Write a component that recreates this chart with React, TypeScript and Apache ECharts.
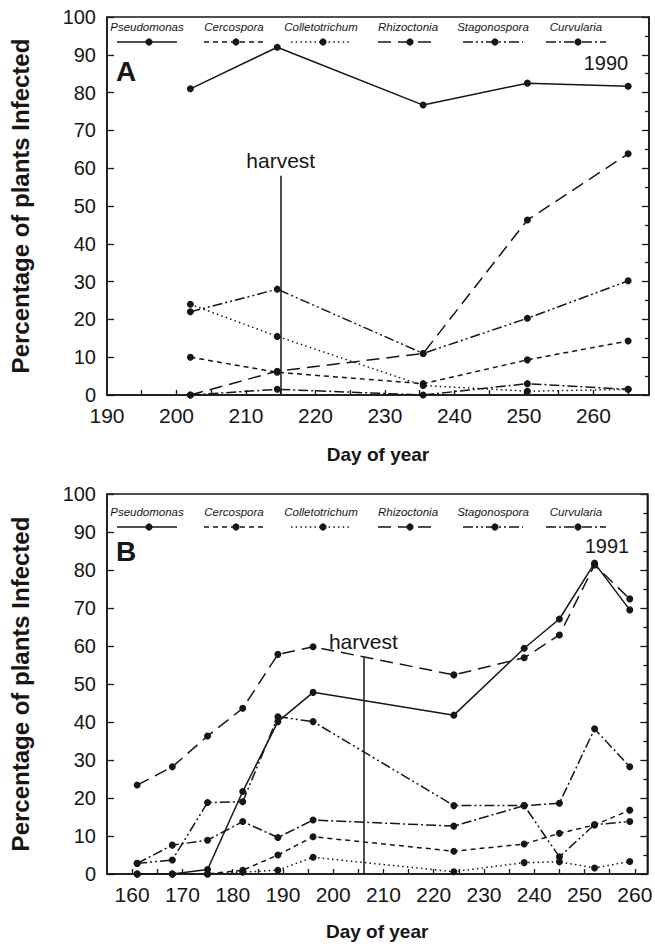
import React, { useEffect, useRef } from "react";
import * as echarts from "echarts";

// ---------- data ----------
const SPECIES = ["Pseudomonas", "Cercospora", "Colletotrichum", "Rhizoctonia", "Stagonospora", "Curvularia"];

// Panel A (1990)
const daysA = [202, 214.5, 235.5, 250.5, 265];
const pseudomonasA = [81, 92, 76.7, 82.5, 81.7];
const cercosporaA = [10, 6, 3, 9.3, 14.3];
const colletotrichumA = [24, 15.5, 2.5, 1, 1.5];
const rhizoctoniaA = [0, 6.3, 11, 46.3, 63.8];
const stagonosporaA = [22, 28, 11, 20.3, 30.2];
const curvulariaA = [0, 1.5, 0, 3, 1.5];
const harvestA = { day: 215, top: 58 };

// Panel B (1991)
const daysB = [161, 168, 175, 182, 189, 196, 224, 238, 245, 252, 259];
const pseudomonasB = [0, 0, 1.2, 21.7, 40.1, 47.8, 41.8, 59.4, 67.1, 81.8, 69.5];
const cercosporaB = [0, 0, 0, 1, 5, 9.8, 6, 7.9, 10.7, 12.9, 16.8];
const colletotrichumB = [0, 0, 0, 0.5, 1, 4.4, 0.6, 3, 3.2, 1.6, 3.3];
const rhizoctoniaB = [23.4, 28.2, 36.3, 43.6, 57.8, 59.8, 52.4, 56.9, 62.9, 81.3, 72.4];
const stagonosporaB = [2.8, 3.7, 18.8, 19, 41.4, 40.1, 18, 18, 4.5, 13, 13.8];
const curvulariaB = [2.8, 7.6, 8.9, 13.8, 9.6, 14.2, 12.6, 18, 18.6, 38.2, 28.2];
const harvestB = { day: 206, top: 57 };

// axis ticks / labels
const xLabelsA = [190, 200, 210, 220, 230, 240, 250, 260];
const xTicksA = [195, 200, 205, 210, 215, 220, 225, 230, 235, 240, 245, 250, 255, 260, 265];
const xLabelsB = [160, 170, 180, 190, 200, 210, 220, 230, 240, 250, 260];
const xTicksB = [160, 165, 170, 175, 180, 185, 190, 195, 200, 205, 210, 215, 220, 225, 230, 235, 240, 245, 250, 255, 260];

const seriesA = [pseudomonasA, cercosporaA, colletotrichumA, rhizoctoniaA, stagonosporaA, curvulariaA];
const seriesB = [pseudomonasB, cercosporaB, colletotrichumB, rhizoctoniaB, stagonosporaB, curvulariaB];

// ---------- styles ----------
const INK = "#161616";
const FONT = '"Liberation Sans", Arial, Helvetica, sans-serif';
const DASH: any[] = ["solid", [5, 4], [1.5, 3.2], [13, 7], [10, 3, 2, 3, 2, 3], [10, 3, 2, 3]];
const LEGEND_X = [147, 234, 321, 408, 493, 576];

function App() {
  const ref = useRef<HTMLDivElement>(null);

  useEffect(() => {
    if (!ref.current) return;
    const chart = echarts.init(ref.current, undefined, { renderer: "svg" });

    const grids = [
      { left: 94, right: 6, top: 17, height: 378 },
      { left: 94, right: 6, top: 494, height: 380 },
    ].map((g) => ({ ...g, show: true, borderColor: INK, borderWidth: 1.5, backgroundColor: "transparent" }));

    const mkX = (idx: number, min: number, max: number, labels: number[], ticks: number[], gap: number) => ({
      type: "value",
      gridIndex: idx,
      min,
      max,
      name: "Day of year",
      nameLocation: "middle",
      nameGap: gap,
      nameTextStyle: { fontFamily: FONT, fontWeight: "bold", fontSize: 19, color: INK },
      axisLine: { show: true, lineStyle: { color: INK, width: 1.5 } },
      axisTick: { show: true, inside: true, length: 5, customValues: ticks, lineStyle: { color: INK, width: 1.3 } },
      axisLabel: { show: true, customValues: labels, fontFamily: FONT, fontSize: 21, color: INK, margin: 10 },
      splitLine: { show: false },
    });

    const mkY = (idx: number, right: boolean) => ({
      type: "value",
      gridIndex: idx,
      min: 0,
      max: 100,
      interval: 10,
      position: right ? "right" : "left",
      name: right ? "" : "Percentage of plants Infected",
      nameLocation: "middle",
      nameGap: 75,
      nameRotate: 90,
      nameTextStyle: { fontFamily: FONT, fontWeight: "bold", fontSize: 24, color: INK },
      axisLine: { show: true, lineStyle: { color: INK, width: 1.5 } },
      axisTick: { show: true, inside: true, length: 7, lineStyle: { color: INK, width: 1.3 } },
      minorTick: { show: right, splitNumber: 2, length: 4, lineStyle: { color: INK, width: 1.3 } },
      axisLabel: { show: !right, fontFamily: FONT, fontSize: 20, color: INK, margin: 11, lineHeight: 18 },
      splitLine: { show: false },
    });

    const series: any[] = [];
    const panels = [
      { days: daysA, vals: seriesA, harvest: harvestA },
      { days: daysB, vals: seriesB, harvest: harvestB },
    ];
    panels.forEach((p, pi) => {
      p.vals.forEach((vals, si) => {
        const s: any = {
          type: "line",
          name: SPECIES[si] + (pi === 0 ? " 1990" : " 1991"),
          xAxisIndex: pi,
          yAxisIndex: pi * 2,
          data: p.days.map((d, k) => [d, vals[k]]),
          symbol: "circle",
          symbolSize: 7,
          itemStyle: { color: INK },
          lineStyle: { color: INK, width: 1.5, type: DASH[si], cap: "butt" },
          z: 3,
        };
        if (si === 0) {
          s.markLine = {
            silent: true,
            symbol: ["none", "none"],
            lineStyle: { color: INK, width: 1.5, type: "solid" },
            label: { show: true, position: "end", formatter: "harvest", fontFamily: FONT, fontSize: 21, color: INK, distance: 5 },
            data: [[{ coord: [p.harvest.day, 0] }, { coord: [p.harvest.day, p.harvest.top] }]],
          };
        }
        series.push(s);
      });
    });

    const graphics: any[] = [];
    const legendRows = [
      { textY: 27, lineY: 42 },
      { textY: 512, lineY: 527 },
    ];
    legendRows.forEach((row) => {
      SPECIES.forEach((name, i) => {
        const cx = LEGEND_X[i];
        graphics.push({
          type: "text",
          x: cx,
          y: row.textY,
          style: { text: name, fontFamily: FONT, fontStyle: "italic", fontSize: 11.5, fill: INK, align: "center", verticalAlign: "middle" },
        });
        graphics.push({
          type: "line",
          shape: { x1: cx - 30, y1: row.lineY, x2: cx + 30, y2: row.lineY },
          style: { stroke: INK, lineWidth: 1.5, lineDash: DASH[i] === "solid" ? null : DASH[i] },
        });
        graphics.push({ type: "circle", shape: { cx: cx + 2, cy: row.lineY, r: 3.6 }, style: { fill: INK } });
      });
    });
    const bigText = (text: string, x: number, y: number, size: number, bold: boolean) => ({
      type: "text",
      x,
      y,
      style: { text, fontFamily: FONT, fontWeight: bold ? "bold" : "normal", fontSize: size, fill: INK, align: "center", verticalAlign: "middle" },
    });
    graphics.push(bigText("A", 126, 71, 28, true));
    graphics.push(bigText("B", 126, 551, 28, true));
    graphics.push(bigText("1990", 606, 63, 20, false));
    graphics.push(bigText("1991", 607, 546, 20, false));

    chart.setOption({
      animation: false,
      backgroundColor: "#ffffff",
      grid: grids,
      xAxis: [mkX(0, 190, 268, xLabelsA, xTicksA, 50), mkX(1, 155, 262.5, xLabelsB, xTicksB, 48)],
      yAxis: [mkY(0, false), mkY(0, true), mkY(1, false), mkY(1, true)],
      series,
      graphic: graphics,
    });

    return () => chart.dispose();
  }, []);

  return <div ref={ref} style={{ position: "absolute", left: 0, top: 0, width: 655, height: 947 }} />;
}

export default App;
